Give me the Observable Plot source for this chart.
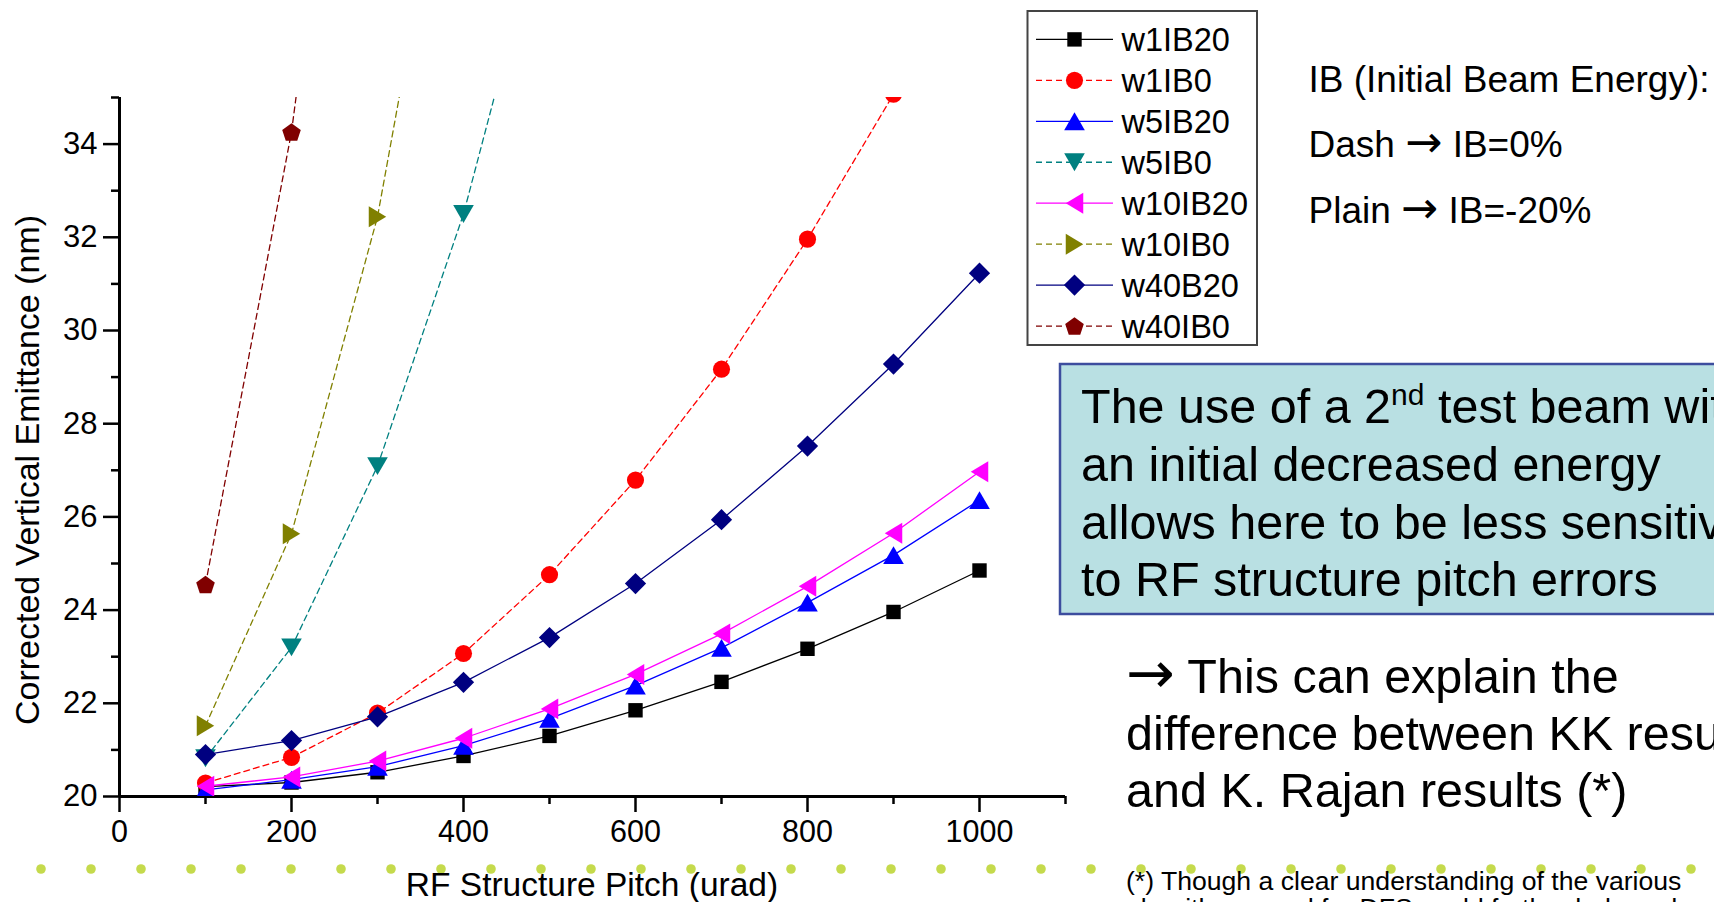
<!DOCTYPE html>
<html>
<head>
<meta charset="utf-8">
<script src="https://cdn.jsdelivr.net/npm/d3@7"></script>
<script src="https://cdn.jsdelivr.net/npm/@observablehq/plot@0.6"></script>
<style>
  html, body { margin: 0; padding: 0; background: #ffffff; }
  #page { position: relative; width: 1714px; height: 902px; overflow: hidden; background: #ffffff;
          font-family: "Liberation Sans", Arial, sans-serif; }
  #page > svg { position: absolute; left: 0; top: 0; }
</style>
</head>
<body>
<div id="page"></div>
<script>
// ---------------- data ----------------
const pitch = [100, 200, 300, 400, 500, 600, 700, 800, 900, 1000];
const w1IB20  = [20.21, 20.30, 20.52, 20.87, 21.30, 21.85, 22.46, 23.17, 23.96, 24.85];
const w1IB0   = [20.29, 20.84, 21.79, 23.07, 24.76, 26.79, 29.17, 31.96, 35.07];
const w5IB20  = [20.14, 20.36, 20.64, 21.09, 21.67, 22.38, 23.19, 24.16, 25.18, 26.36];
const w5IB0   = [20.82, 23.20, 27.09, 32.50, 39.5];
const w10IB20 = [20.22, 20.42, 20.76, 21.25, 21.88, 22.62, 23.49, 24.51, 25.65, 26.97];
const w10IB0  = [21.52, 25.64, 32.44, 42.6];
const w40B20  = [20.90, 21.20, 21.71, 22.45, 23.41, 24.57, 25.94, 27.52, 29.28, 31.23];
const w40IB0  = [24.55, 34.26, 48.4];

const seriesNames  = ["w1IB20", "w1IB0", "w5IB20", "w5IB0", "w10IB20", "w10IB0", "w40B20", "w40IB0"];
const seriesValues = [w1IB20, w1IB0, w5IB20, w5IB0, w10IB20, w10IB0, w40B20, w40IB0];

const xMajorTicks = [0, 200, 400, 600, 800, 1000];
const xMinorTicks = [100, 300, 500, 700, 900, 1100];
const yMajorTicks = [20, 22, 24, 26, 28, 30, 32, 34];
const yMinorTicks = [21, 23, 25, 27, 29, 31, 33, 35];
const xTitle = "RF Structure Pitch (urad)";
const yTitle = "Corrected Vertical Emittance (nm)";

const ARROW = "\u2192";
const noteIB    = "IB (Initial Beam Energy):";
const noteDash  = ["Dash ", ARROW, " IB=0%"];
const notePlain = ["Plain ", ARROW, " IB=-20%"];
const boxLines  = ["an initial decreased energy", "allows here to be less sensitive", "to RF structure pitch errors"];
const explainLines = [[ARROW, " This can explain the"], ["difference between KK results"], ["and K. Rajan results (*)"]];
const footLines = ["(*) Though a clear understanding of the various", "algorithms used for DFS could further help understanding"];

// ---------------- symbols ----------------
function polySymbol(pts) {
  return { draw(ctx, size) {
    const r = Math.sqrt(size / Math.PI);
    pts.forEach(([x, y], i) => i ? ctx.lineTo(x * r, y * r) : ctx.moveTo(x * r, y * r));
    ctx.closePath();
  }};
}
const SQUARE = { draw(ctx, size) { const h = 0.9 * Math.sqrt(size / Math.PI); ctx.rect(-h, -h, 2 * h, 2 * h); } };
const CIRCLE = { draw(ctx, size) { const r = 1.07 * Math.sqrt(size / Math.PI); ctx.moveTo(r, 0); ctx.arc(0, 0, r, 0, 2 * Math.PI); } };
const TRI_UP    = polySymbol([[0, -1.12], [1.29, 1.12], [-1.29, 1.12]]);
const TRI_DOWN  = polySymbol([[0, 1.12], [1.29, -1.12], [-1.29, -1.12]]);
const TRI_LEFT  = polySymbol([[-1.09, 0], [1.09, -1.31], [1.09, 1.31]]);
const TRI_RIGHT = polySymbol([[1.09, 0], [-1.09, -1.31], [-1.09, 1.31]]);
const DIAMOND   = polySymbol([[0, -1.33], [1.33, 0], [0, 1.33], [-1.33, 0]]);
const PENTAGON  = polySymbol(d3.range(5).map(i => {
  const a = -Math.PI / 2 + i * 2 * Math.PI / 5;
  return [1.22 * Math.cos(a), 1.22 * Math.sin(a) + 0.116];
}));

const seriesStyle = {
  w1IB20:  { color: "#000000", dash: null,  symbol: SQUARE },
  w1IB0:   { color: "#ff0000", dash: "6,4", symbol: CIRCLE },
  w5IB20:  { color: "#0000ff", dash: null,  symbol: TRI_UP },
  w5IB0:   { color: "#008080", dash: "6,4", symbol: TRI_DOWN },
  w10IB20: { color: "#ff00ff", dash: null,  symbol: TRI_LEFT },
  w10IB0:  { color: "#808000", dash: "6,4", symbol: TRI_RIGHT },
  w40B20:  { color: "#000080", dash: null,  symbol: DIAMOND },
  w40IB0:  { color: "#800000", dash: "6,4", symbol: PENTAGON }
};
const MARKER_R = 8;

// table built from the arrays
const rows = seriesNames.flatMap((name, si) =>
  seriesValues[si].map((v, i) => ({ series: name, pitch: pitch[i], value: v })));

const page = document.getElementById("page");
const FONT = "Liberation Sans, Arial, sans-serif";

// ---------------- slide decoration (dotted band) ----------------
const deco = d3.create("svg").attr("width", 1714).attr("height", 902);
deco.selectAll("circle").data(d3.range(36)).join("circle")
  .attr("cx", i => -9 + 50 * i).attr("cy", 869).attr("r", 4.8).attr("fill", "#c5da4c");
page.appendChild(deco.node());

// ---------------- chart ----------------
const seriesMarks = seriesNames.flatMap(name => {
  const st = seriesStyle[name];
  const data = rows.filter(d => d.series === name);
  return [
    Plot.line(data, { x: "pitch", y: "value", stroke: st.color, strokeWidth: 1.3,
      strokeDasharray: st.dash, clip: true }),
    Plot.dot(data, { x: "pitch", y: "value", symbol: st.symbol, r: MARKER_R,
      fill: st.color, stroke: "none", clip: true })
  ];
});

const chart = Plot.plot({
  width: 1714,
  height: 902,
  marginLeft: 119,
  marginRight: 649,
  marginTop: 97,
  marginBottom: 106,
  style: { background: "transparent", fontFamily: FONT, overflow: "visible" },
  x: { domain: [0, 1100] },
  y: { domain: [20, 35] },
  marks: [
    Plot.axisX({ ticks: xMinorTicks, tickSize: 8, strokeWidth: 2.5, tickFormat: () => "", label: null }),
    Plot.axisX({ ticks: xMajorTicks, tickSize: 16, tickPadding: 8, strokeWidth: 2.5, fontSize: 30.5,
      fill: "#000", tickFormat: d => String(d), label: null }),
    Plot.axisY({ ticks: yMinorTicks, tickSize: 8, strokeWidth: 2.5, tickFormat: () => "", label: null }),
    Plot.axisY({ ticks: yMajorTicks, tickSize: 16, tickPadding: 6, strokeWidth: 2.5, fontSize: 31,
      fill: "#000", tickFormat: d => String(d), label: null }),
    Plot.ruleY([20], { strokeWidth: 3 }),
    Plot.ruleX([0], { strokeWidth: 3 }),
    ...seriesMarks
  ]
});
page.appendChild(chart);

// ---------------- overlay: titles, legend, notes ----------------
const ov = d3.create("svg").attr("width", 1714).attr("height", 902)
  .style("font-family", FONT);

ov.append("text").attr("x", 592).attr("y", 896).attr("text-anchor", "middle")
  .attr("font-size", 33.5).attr("fill", "#000").text(xTitle);
ov.append("text").attr("transform", "translate(39,470) rotate(-90)").attr("text-anchor", "middle")
  .attr("font-size", 34).attr("fill", "#000").text(yTitle);

// legend
const lg = ov.append("g");
lg.append("rect").attr("x", 1027.5).attr("y", 11).attr("width", 229.5).attr("height", 334)
  .attr("fill", "#fff").attr("stroke", "#444").attr("stroke-width", 2);
seriesNames.forEach((name, i) => {
  const st = seriesStyle[name];
  const cy = 39.4 + 40.95 * i;
  lg.append("line").attr("x1", 1036).attr("x2", 1113).attr("y1", cy).attr("y2", cy)
    .attr("stroke", st.color).attr("stroke-width", 1.3).attr("stroke-dasharray", st.dash);
  lg.append("path").attr("d", d3.symbol(st.symbol, Math.PI * MARKER_R * MARKER_R)())
    .attr("transform", `translate(1074.5,${cy})`).attr("fill", st.color);
  lg.append("text").attr("x", 1121.5).attr("y", cy + 11.5).attr("font-size", 32.5).attr("fill", "#000").text(name);
});

// text with a wider arrow glyph
function arrowText(parent, parts, x, y, size) {
  const t = parent.append("text").attr("x", x).attr("y", y).attr("font-size", size).attr("fill", "#000")
    .attr("xml:space", "preserve").style("white-space", "pre");
  parts.forEach(p => {
    const s = t.append("tspan").text(p);
    if (p === ARROW) s.attr("font-family", "DejaVu Sans, sans-serif").attr("font-size", size * 1.2);
  });
  return t;
}

// IB notes
ov.append("text").attr("x", 1308.5).attr("y", 91.7).attr("font-size", 37).attr("fill", "#000").text(noteIB);
arrowText(ov, noteDash, 1308.5, 156.7, 37);
arrowText(ov, notePlain, 1308.5, 223.3, 37);

// teal box
ov.append("rect").attr("x", 1060).attr("y", 364).attr("width", 700).attr("height", 250)
  .attr("fill", "#b9e0e3").attr("stroke", "#3d4d9e").attr("stroke-width", 2.5);
const first = ov.append("text").attr("x", 1081).attr("y", 423).attr("font-size", 48.5).attr("fill", "#000");
first.append("tspan").text("The use of a 2");
first.append("tspan").attr("font-size", 30).attr("dy", -18).text("nd");
first.append("tspan").attr("dy", 18).text(" test beam with");
boxLines.forEach((t, i) => {
  ov.append("text").attr("x", 1081).attr("y", 481 + 57.6 * i).attr("font-size", 48.5).attr("fill", "#000").text(t);
});

explainLines.forEach((parts, i) => {
  arrowText(ov, parts, 1126, 693 + 57 * i, 48.5);
});

footLines.forEach((t, i) => {
  ov.append("text").attr("x", 1126).attr("y", 890 + 27 * i).attr("font-size", 26.6).attr("fill", "#000").text(t);
});

page.appendChild(ov.node());
</script>
</body>
</html>
